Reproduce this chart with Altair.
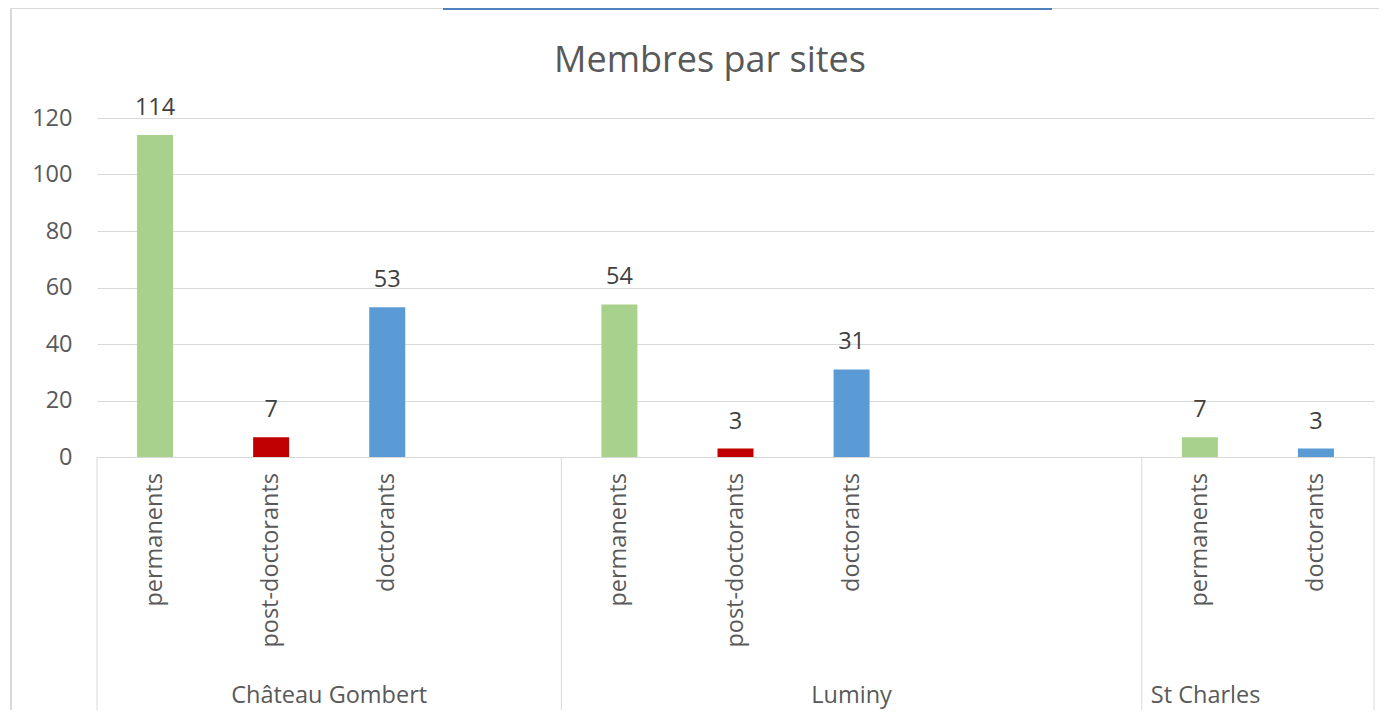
import altair as alt
import pandas as pd

title_text = "Membres par sites"
sites = ["Château Gombert", "Château Gombert", "Château Gombert", "Château Gombert",
         "Luminy", "Luminy", "Luminy", "Luminy", "Luminy",
         "St Charles", "St Charles"]
categories = ["permanents", "post-doctorants", "doctorants", "",
              "permanents", "post-doctorants", "doctorants", "", "",
              "permanents", "doctorants"]
values = [114, 7, 53, None, 54, 3, 31, None, None, 7, 3]
site_names = ["Château Gombert", "Luminy", "St Charles"]
cat_domain = ["permanents", "post-doctorants", "doctorants"]
cat_colors = ["#a9d18e", "#c00000", "#5b9bd5"]
y_ticks = [0, 20, 40, 60, 80, 100, 120]

n = len(categories)
rows = [{"site": s, "category": c, "value": v, "center": i + 0.5}
        for i, (s, c, v) in enumerate(zip(sites, categories, values))]
bars_df = pd.DataFrame([r for r in rows if r["value"] is not None])
labels_df = pd.DataFrame([{"category": r["category"], "center": r["center"]}
                          for r in rows if r["category"] != ""])

starts = [sites.index(s) for s in site_names]
ends = [starts[i + 1] if i + 1 < len(starts) else n for i in range(len(starts))]
groups = pd.DataFrame({
    "site": site_names,
    "start": [float(a) for a in starts],
    "mid": [(a + b) / 2 for a, b in zip(starts, ends)],
})
bounds_df = pd.DataFrame({"b": [float(b) for b in starts + [n]]})

FONT = "Open Sans"
GRAY = "#595959"
LINE = "#d9d9d9"
FS = 23.5
W, H = 1277, 339

xs = alt.Scale(domain=[0, n], nice=False, zero=False, padding=0)
ys = alt.Scale(domain=[0, 120], nice=False)
yaxis = alt.Axis(values=y_ticks, grid=True, gridColor=LINE, gridWidth=1, domain=False,
                 ticks=False, labelFontSize=FS, labelFont=FONT, labelColor=GRAY,
                 labelPadding=25, title=None)

bars = alt.Chart(bars_df).mark_bar(size=36).encode(
    x=alt.X("center:Q", scale=xs, axis=None),
    y=alt.Y("value:Q", scale=ys, axis=yaxis),
    color=alt.Color("category:N", scale=alt.Scale(domain=cat_domain, range=cat_colors), legend=None),
)

value_labels = alt.Chart(bars_df).mark_text(
    baseline="alphabetic", dy=-20, fontSize=FS, font=FONT, color="#404040"
).encode(
    x=alt.X("center:Q", scale=xs, axis=None),
    y=alt.Y("value:Q", scale=ys, axis=yaxis),
    text=alt.Text("value:Q"),
)

cat_labels = alt.Chart(labels_df).mark_text(
    angle=270, align="right", baseline="middle", fontSize=FS, font=FONT, color=GRAY
).encode(
    x=alt.X("center:Q", scale=xs, axis=None),
    y=alt.value(355),
    text="category:N",
)

separators = alt.Chart(bounds_df).mark_rule(color=LINE, strokeWidth=1).encode(
    x=alt.X("b:Q", scale=xs, axis=None),
    y=alt.value(H),
    y2=alt.value(600),
)

site_center = alt.Chart(groups).transform_filter(
    alt.datum.site != "St Charles"
).mark_text(align="center", baseline="alphabetic", fontSize=FS, font=FONT, color=GRAY).encode(
    x=alt.X("mid:Q", scale=xs, axis=None),
    y=alt.value(585),
    text="site:N",
)

site_left = alt.Chart(groups).transform_filter(
    alt.datum.site == "St Charles"
).mark_text(align="left", baseline="alphabetic", dx=9, fontSize=FS, font=FONT, color=GRAY).encode(
    x=alt.X("start:Q", scale=xs, axis=None),
    y=alt.value(585),
    text="site:N",
)

one = pd.DataFrame({"t": [title_text]})
title = alt.Chart(one).mark_text(
    align="center", baseline="alphabetic", fontSize=36, font=FONT, color=GRAY
).encode(x=alt.value(613), y=alt.value(-46), text="t:N")

border_left = alt.Chart(one).mark_rule(color=LINE, strokeWidth=2).encode(
    x=alt.value(-86), y=alt.value(-110), y2=alt.value(600))
border_top = alt.Chart(one).mark_rule(color=LINE, strokeWidth=2).encode(
    x=alt.value(-86), x2=alt.value(1290), y=alt.value(-110))
blue_box = alt.Chart(one).mark_rule(color="#4f81bd", strokeWidth=4).encode(
    x=alt.value(346), x2=alt.value(955), y=alt.value(-110))

chart = alt.layer(
    border_left, border_top, blue_box,
    separators, bars, value_labels, cat_labels, site_center, site_left, title
).properties(
    width=W, height=H,
    autosize=alt.AutoSizeParams(type="none"),
    padding={"left": 89, "top": 110, "right": 5, "bottom": 253},
    background="white",
).configure_view(strokeWidth=0)

chart.save("out.html", embed_options={"renderer": "svg", "actions": False})
